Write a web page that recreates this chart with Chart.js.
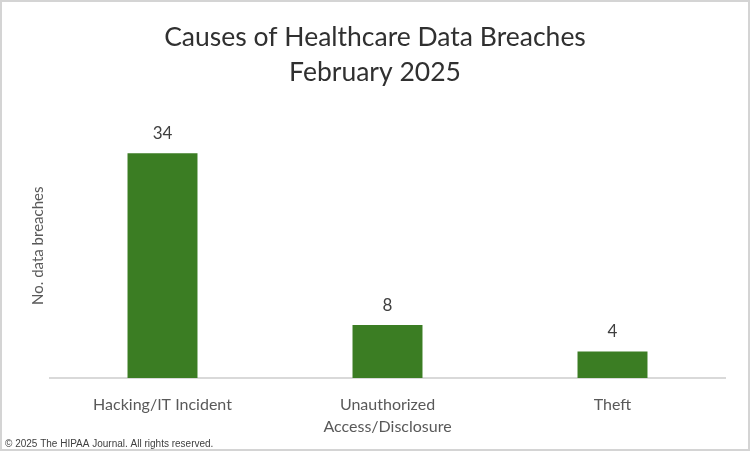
<!DOCTYPE html>
<html>
<head>
<meta charset="utf-8">
<script src="https://cdn.jsdelivr.net/npm/chart.js@4/dist/chart.umd.min.js"></script>
<style>
  html, body { margin: 0; padding: 0; background: #ffffff; }
  #wrap {
    box-sizing: border-box;
    width: 750px;
    height: 451px;
    border: 2px solid #d4d4d4;
    background: #ffffff;
    position: relative;
  }
</style>
</head>
<body>
<div id="wrap"><canvas id="grafico"></canvas></div>
<script>
// dados do gráfico
const categorias = [["Hacking/IT Incident"], ["Unauthorized", "Access/Disclosure"], ["Theft"]];
const violacoes = [34, 8, 4];
const titulo = ["Causes of Healthcare Data Breaches", "February 2025"];
const rodape = "\u00a9 2025 The HIPAA Journal. All rights reserved.";

const verde = "#3b7d23";
const fonte = "Lato, 'Open Sans', sans-serif";

// rótulos em cima das barras + rodapé
const rotulosPlugin = {
  id: "rotulos",
  afterDatasetsDraw(chart) {
    const ctx = chart.ctx;
    const meta = chart.getDatasetMeta(0);
    ctx.save();
    ctx.fillStyle = "#404040";
    ctx.font = "17px " + fonte;
    ctx.textAlign = "center";
    ctx.textBaseline = "middle";
    meta.data.forEach((barra, i) => {
      ctx.fillText(String(chart.data.datasets[0].data[i]), barra.x, barra.y - 20);
    });
    ctx.font = "10px 'Liberation Sans', Arial, sans-serif";
    ctx.textAlign = "left";
    ctx.textBaseline = "alphabetic";
    ctx.fillStyle = "#404040";
    ctx.fillText(rodape, 3, chart.height - 2);
    ctx.restore();
  }
};

const grafico = new Chart(document.getElementById("grafico"), {
  type: "bar",
  data: {
    labels: categorias,
    datasets: [{
      label: "No. data breaches",
      data: violacoes,
      backgroundColor: verde,
      borderColor: verde,
      borderWidth: 0,
      categoryPercentage: 1,
      barPercentage: 0.311
    }]
  },
  options: {
    responsive: true,
    maintainAspectRatio: false,
    animation: false,
    layout: {
      padding: 0
    },
    plugins: {
      legend: { display: false },
      tooltip: { enabled: false },
      title: {
        display: true,
        text: titulo,
        color: "#303030",
        font: { family: fonte, size: 26.5, weight: "normal", lineHeight: 1.33 },
        padding: { top: 18, bottom: 23 }
      }
    },
    scales: {
      y: {
        min: 0,
        max: 40,
        grid: { display: false },
        border: { display: false },
        ticks: { display: false },
        title: {
          display: true,
          text: "No. data breaches",
          color: "#595959",
          font: { family: fonte, size: 15 },
          padding: { top: 27, bottom: 0 }
        },
        afterFit: function (escala) { escala.width = 48; }
      },
      // eixo vazio só para dar a margem da direita
      margemDireita: {
        position: "right",
        grid: { display: false },
        border: { display: false },
        ticks: { display: false },
        afterFit: function (escala) { escala.width = 23; }
      },
      x: {
        grid: { display: false, drawTicks: false },
        border: { display: true, color: "#d9d9d9", width: 2 },
        ticks: {
          color: "#595959",
          font: { family: fonte, size: 16, lineHeight: 1.38 },
          padding: 16,
          maxRotation: 0
        },
        afterFit: function (escala) { escala.height = 71; }
      }
    }
  },
  plugins: [rotulosPlugin]
});
</script>
</body>
</html>
